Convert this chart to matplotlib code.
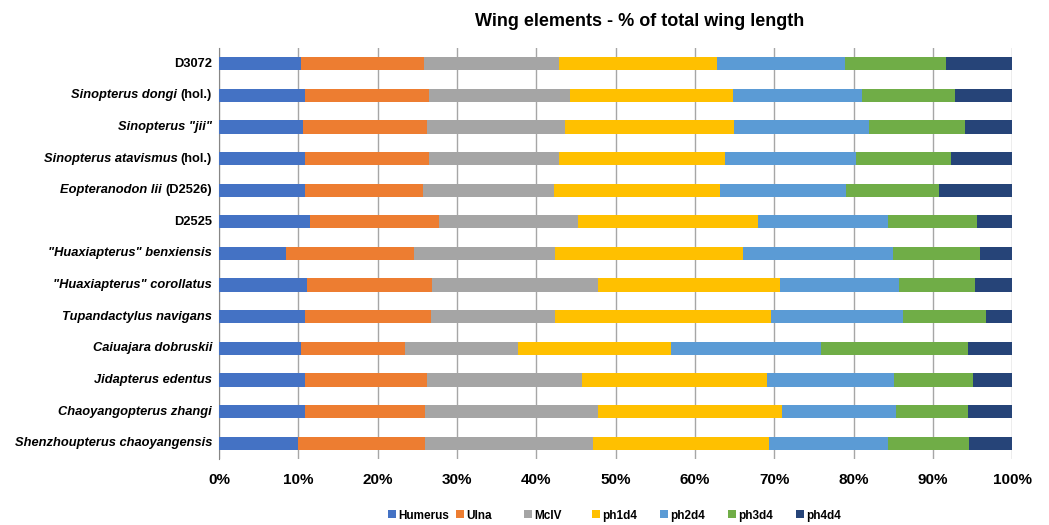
import numpy as np
import matplotlib
matplotlib.use('Agg')
import matplotlib.pyplot as plt
from matplotlib.ticker import PercentFormatter

plt.rcParams['font.family'] = ['Liberation Sans', 'DejaVu Sans']
plt.rcParams['font.weight'] = 'bold'

# specimen names: italic part, plain suffix
names = ['', 'Sinopterus dongi', 'Sinopterus "jii"', 'Sinopterus atavismus',
         'Eopteranodon lii', '', '"Huaxiapterus" benxiensis', '"Huaxiapterus" corollatus',
         'Tupandactylus navigans', 'Caiuajara dobruskii', 'Jidapterus edentus',
         'Chaoyangopterus zhangi', 'Shenzhoupterus chaoyangensis']
suffix = ['D3072', '(hol.)', '', '(hol.)', '(D2526)', 'D2525', '', '', '', '', '', '', '']

elements = ['Humerus', 'Ulna', 'McIV', 'ph1d4', 'ph2d4', 'ph3d4', 'ph4d4']
colors = ['#4472C4', '#ED7D31', '#A5A5A5', '#FFC000', '#5B9BD5', '#70AD47', '#264478']

# % of total wing length, one list per element (rows in order of names)
humerus = [10.3, 10.8, 10.6, 10.9, 10.8, 11.5, 8.4, 11.1, 10.8, 10.3, 10.8, 10.9, 10.0]
ulna    = [15.6, 15.7, 15.6, 15.6, 14.9, 16.2, 16.2, 15.8, 15.9, 13.2, 15.4, 15.1, 16.0]
mciv    = [16.9, 17.7, 17.4, 16.4, 16.5, 17.6, 17.8, 20.9, 15.7, 14.2, 19.6, 21.8, 21.1]
ph1d4   = [20.0, 20.6, 21.3, 20.9, 21.0, 22.7, 23.6, 22.9, 27.2, 19.3, 23.3, 23.2, 22.2]
ph2d4   = [16.1, 16.3, 17.1, 16.5, 15.9, 16.3, 18.9, 15.0, 16.6, 18.9, 16.0, 14.3, 15.0]
ph3d4   = [12.7, 11.7, 12.1, 12.0, 11.7, 11.2, 11.0, 9.6, 10.5, 18.5, 10.0, 9.1, 10.3]
ph4d4   = [8.4, 7.2, 5.9, 7.7, 9.2, 4.5, 4.1, 4.7, 3.3, 5.6, 4.9, 5.6, 5.4]

data = np.array([humerus, ulna, mciv, ph1d4, ph2d4, ph3d4, ph4d4])
data = data / data.sum(axis=0) * 100

fig = plt.figure(figsize=(10.49, 5.25), dpi=100)
ax = fig.add_axes([0.2088, 0.1257, 0.7562, 0.783])

y = np.arange(len(names))
left = np.zeros(len(names))
bars = []
for i, el in enumerate(elements):
    b = ax.barh(y, data[i], left=left, height=0.42, color=colors[i], label=el, zorder=3)
    bars.append(b)
    left += data[i]

ax.set_xlim(0, 100)
ax.set_ylim(len(names) - 0.5, -0.5)
ax.set_xticks(np.arange(0, 101, 10))
ax.xaxis.set_major_formatter(PercentFormatter(decimals=0))
ax.set_yticks(y)
ax.set_yticklabels([])
ax.tick_params(axis='x', labelsize=11, length=0, pad=10)
ax.tick_params(axis='y', length=0)
ax.grid(axis='x', color='#a6a6a6', linewidth=1, zorder=0)
for sp in ['top', 'right', 'bottom']:
    ax.spines[sp].set_visible(False)
ax.spines['left'].set_color('#868686')

# y labels: italic name followed by upright suffix
renderer = fig.canvas.get_renderer()
fs = 9.3
for yi, n, s in zip(y, names, suffix):
    off = -5
    if s:
        t = ax.annotate(s, xy=(0, yi), xycoords=('axes fraction', 'data'), xytext=(off, 0),
                        textcoords='offset points', ha='right', va='center',
                        fontsize=fs, fontweight='bold')
        w = t.get_window_extent(renderer).width * 72 / fig.dpi
        off -= w + 2.5
    if n:
        ax.annotate(n, xy=(0, yi), xycoords=('axes fraction', 'data'), xytext=(off, 0),
                    textcoords='offset points', ha='right', va='center',
                    fontsize=fs, fontweight='bold', fontstyle='italic')

fig.text(0.61, 0.96, 'Wing elements - % of total wing length', ha='center', va='center',
         fontsize=13, fontweight='bold')

# legend entries evenly spaced, as in the spreadsheet chart
for i, (b, el) in enumerate(zip(bars, elements)):
    leg = fig.legend([b], [el], loc='center left', bbox_to_anchor=((388 + 68 * i) / 1049, 0.018),
                     frameon=False, fontsize=8.5, handlelength=0.65, handleheight=0.65,
                     handletextpad=0.25, borderpad=0, borderaxespad=0)

fig.savefig('out.png', dpi=100)
